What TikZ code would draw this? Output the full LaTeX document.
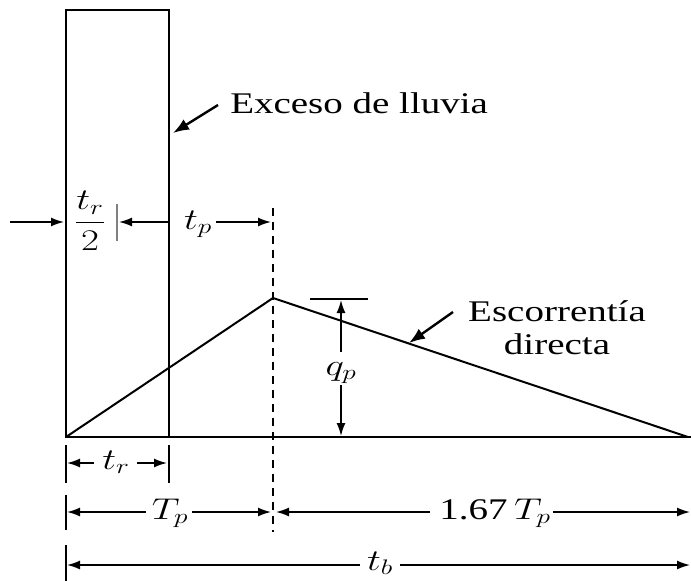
\RequirePackage{fix-cm}
\documentclass[tikz,border=0pt]{standalone}
\usepackage{fontspec}
\setmainfont{Liberation Serif}
\usetikzlibrary{arrows.meta}
\begin{document}
\begin{tikzpicture}[x=1pt,y=-1pt,
  lbl/.style={font=\fontsize{30}{33}\selectfont, xscale=1.3, inner sep=0pt},
  mainline/.style={line width=2pt},
  frame/.style={line width=2.4pt},
  dimline/.style={line width=1.6pt, -{Latex[length=13pt,width=9pt]}},
  callout/.style={line width=2.4pt, -{Latex[length=16pt,width=12pt]}},
  tick/.style={line width=1.6pt},
  guide/.style={line width=1.6pt, dash pattern=on 8pt off 6pt}]
\useasboundingbox (0,0) rectangle (691,581);
% main coordinates
\coordinate (O) at (66,437);
\coordinate (RT) at (169,10);
\coordinate (RB) at (169,437);
\coordinate (P) at (273,298);
\coordinate (E) at (688,437);
\coordinate (BE) at (691,437);
% rain excess block
\draw[frame] (O) rectangle (RT);
% base line and triangle
\draw[mainline] (O) -- (BE);
\draw[mainline] (O) -- (P) -- (E);
% dashed guide at peak
\coordinate (Gt) at (273,208);
\coordinate (Gb) at (273,532);
\draw[guide] (Gt) -- (Gb);
% labels with arrows
\node[lbl, anchor=base west] (exc) at (230,113) {Exceso de lluvia};
\coordinate (excS) at (218,105);
\coordinate (excT) at (173,133);
\draw[callout] (excS) -- (excT);
\node[lbl, align=center] (esc) at (557,328) {Escorrent\'ia\\directa};
\coordinate (escS) at (453,312);
\coordinate (escT) at (409,343);
\draw[callout] (escS) -- (escT);
% top dimension row: tr/2 and tp
\coordinate (a1s) at (10,222);
\coordinate (a1t) at (64,222);
\draw[dimline] (a1s) -- (a1t);
\node[lbl, anchor=base] (trh) at (90,230) {$\displaystyle\frac{t_r}{2}$};
\coordinate (tk1t) at (117,204);
\coordinate (tk1b) at (117,241);
\draw[tick, gray] (tk1t) -- (tk1b);
\coordinate (a2s) at (169,222);
\coordinate (a2t) at (119,222);
\draw[dimline] (a2s) -- (a2t);
\node[lbl, anchor=base] (tp) at (198,229) {$t_p$};
\coordinate (a3s) at (216,222);
\coordinate (a3t) at (271,222);
\draw[dimline] (a3s) -- (a3t);
% qp
\coordinate (qa) at (310,299);
\coordinate (qb) at (368,299);
\draw[tick] (qa) -- (qb);
\node[lbl, anchor=base] (qp) at (341,375) {$q_p$};
\coordinate (q1s) at (341,352);
\coordinate (q1t) at (341,300);
\draw[dimline] (q1s) -- (q1t);
\coordinate (q2s) at (341,385);
\coordinate (q2t) at (341,436);
\draw[dimline] (q2s) -- (q2t);
% tr row
\coordinate (t1a) at (66,445);
\coordinate (t1b) at (66,483);
\coordinate (t2a) at (169,445);
\coordinate (t2b) at (169,483);
\draw[tick] (t1a) -- (t1b);
\draw[tick] (t2a) -- (t2b);
\node[lbl, anchor=base] (tr) at (116,469) {$t_r$};
\coordinate (r1s) at (94,463);
\coordinate (r1t) at (67,463);
\draw[dimline] (r1s) -- (r1t);
\coordinate (r2s) at (137,463);
\coordinate (r2t) at (167,463);
\draw[dimline] (r2s) -- (r2t);
% Tp row
\coordinate (u1a) at (66,495);
\coordinate (u1b) at (66,530);
\draw[tick] (u1a) -- (u1b);
\node[lbl, anchor=base] (Tp) at (170,519) {$T_p$};
\coordinate (p1s) at (146,512);
\coordinate (p1t) at (67,512);
\draw[dimline] (p1s) -- (p1t);
\coordinate (p2s) at (192,512);
\coordinate (p2t) at (271,512);
\draw[dimline] (p2s) -- (p2t);
\node[lbl, anchor=base] (T167) at (495,519) {1.67\,$T_p$};
\coordinate (p3s) at (430,512);
\coordinate (p3t) at (276,512);
\draw[dimline] (p3s) -- (p3t);
\coordinate (p4s) at (553,512);
\coordinate (p4t) at (690,512);
\draw[dimline] (p4s) -- (p4t);
% tb row
\coordinate (v1a) at (66,545);
\coordinate (v1b) at (66,581);
\draw[tick] (v1a) -- (v1b);
\node[lbl, anchor=base] (tb) at (380,570) {$t_b$};
\coordinate (b1s) at (360,565);
\coordinate (b1t) at (67,565);
\draw[dimline] (b1s) -- (b1t);
\coordinate (b2s) at (400,565);
\coordinate (b2t) at (690,565);
\draw[dimline] (b2s) -- (b2t);
\end{tikzpicture}
\end{document}
